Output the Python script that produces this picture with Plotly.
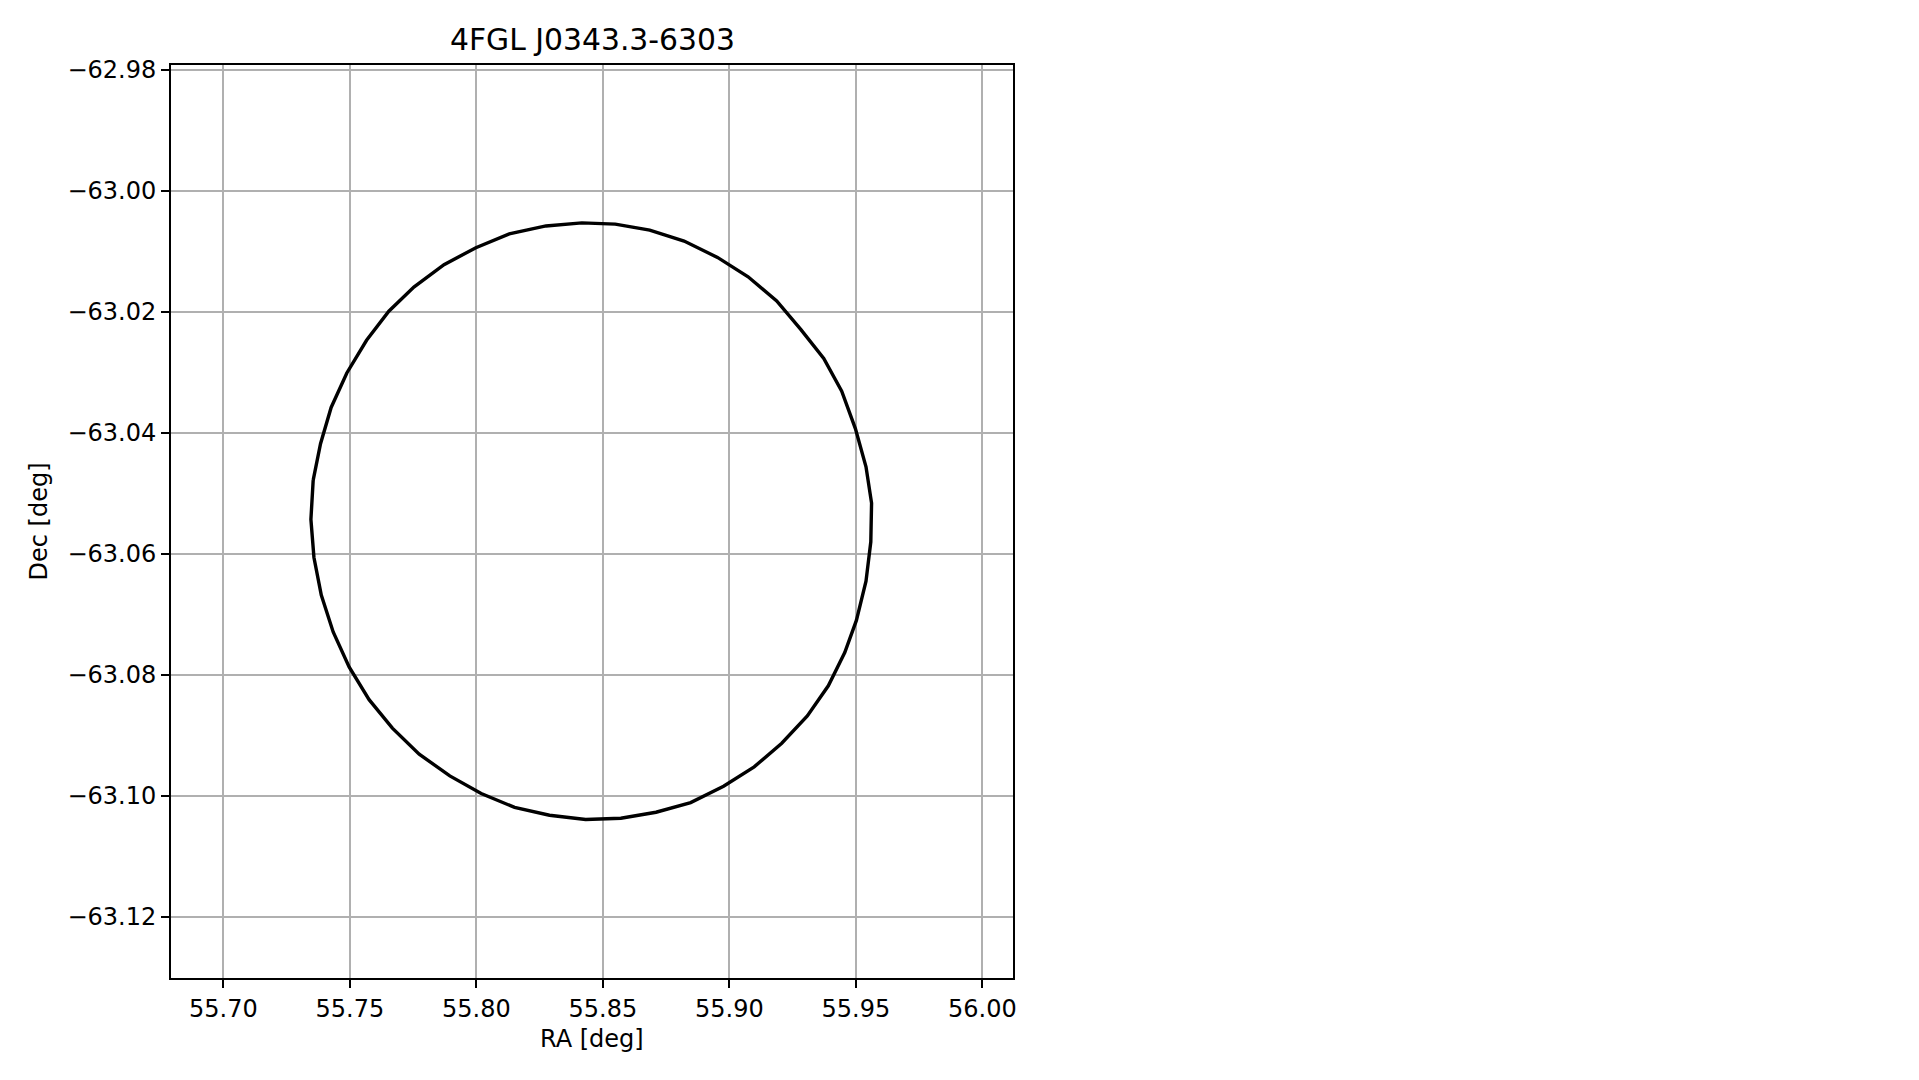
import plotly.graph_objects as go

# Error-ellipse polygon vertices (deg)
ra_deg = [55.7355, 55.7384, 55.7426, 55.7488, 55.7566, 55.7654, 55.7753, 55.7872,
          55.7998, 55.8130, 55.8275, 55.8417, 55.8549, 55.8685, 55.8821, 55.8953,
          55.9074, 55.9187, 55.9282, 55.9373, 55.9444, 55.9498, 55.9540, 55.9562,
          55.9559, 55.9540, 55.9502, 55.9456, 55.9391, 55.9308, 55.9207, 55.9098,
          55.8977, 55.8847, 55.8710, 55.8571, 55.8432, 55.8289, 55.8151, 55.8019,
          55.7895, 55.7774, 55.7668, 55.7576, 55.7497, 55.7434, 55.7387, 55.7358,
          55.7346]
dec_deg = [-63.0478, -63.0418, -63.0358, -63.0301, -63.0247, -63.0199, -63.0159, -63.0122,
           -63.0094, -63.0071, -63.0058, -63.0053, -63.0055, -63.0065, -63.0083, -63.0110,
           -63.0142, -63.0182, -63.0229, -63.0277, -63.0331, -63.0393, -63.0456, -63.0516,
           -63.0580, -63.0645, -63.0710, -63.0763, -63.0818, -63.0868, -63.0913, -63.0952,
           -63.0984, -63.1011, -63.1027, -63.1037, -63.1039, -63.1032, -63.1019, -63.0996,
           -63.0967, -63.0931, -63.0888, -63.0841, -63.0787, -63.0729, -63.0668, -63.0606,
           -63.0543]

x_tickvals = [55.70, 55.75, 55.80, 55.85, 55.90, 55.95, 56.00]
x_ticktext = ["55.70", "55.75", "55.80", "55.85", "55.90", "55.95", "56.00"]
y_tickvals = [-62.98, -63.00, -63.02, -63.04, -63.06, -63.08, -63.10, -63.12]
y_ticktext = ["\u221262.98", "\u221263.00", "\u221263.02", "\u221263.04",
              "\u221263.06", "\u221263.08", "\u221263.10", "\u221263.12"]

x_range = [55.6793, 56.0121]
y_range = [-63.1301, -62.9792]

title_text = "4FGL J0343.3-6303"
x_label = "RA [deg]"
y_label = "Dec [deg]"

FONT = "DejaVu Sans"
LW = 1.9

fig = go.Figure()
fig.add_trace(go.Scatter(
    x=ra_deg + ra_deg[:1], y=dec_deg + dec_deg[:1],
    mode="lines", line=dict(color="black", width=3.4),
    showlegend=False, hoverinfo="skip"))

axis_common = dict(
    showline=True, mirror=True, linecolor="black", linewidth=LW,
    ticks="outside", ticklen=8, tickwidth=LW, tickcolor="black",
    showgrid=True, gridcolor="#b0b0b0", gridwidth=LW,
    zeroline=False, tickfont=dict(family=FONT, size=24, color="black"),
)

fig.update_xaxes(range=x_range, tickmode="array", tickvals=x_tickvals,
                 ticktext=x_ticktext, **axis_common)
fig.update_yaxes(range=y_range, tickmode="array", tickvals=y_tickvals,
                 ticktext=y_ticktext, **axis_common)

fig.update_layout(
    width=1911, height=1072,
    margin=dict(l=163, r=906, t=57, b=102, autoexpand=False),
    paper_bgcolor="white", plot_bgcolor="white",
    font=dict(family=FONT, color="black"),
    annotations=[
        dict(text=title_text, xref="paper", yref="paper", x=0.5, y=1,
             xanchor="center", yanchor="bottom", yshift=6, showarrow=False,
             font=dict(family=FONT, size=29.8, color="black")),
        dict(text=x_label, xref="paper", yref="paper", x=0.5, y=0,
             xanchor="center", yanchor="middle", yshift=-61, showarrow=False,
             font=dict(family=FONT, size=24, color="black")),
        dict(text=y_label, xref="paper", yref="paper", x=0, y=0.5,
             xanchor="center", yanchor="middle", xshift=-133, textangle=-90,
             showarrow=False, font=dict(family=FONT, size=24, color="black")),
    ],
)

fig.write_html("out.html")
